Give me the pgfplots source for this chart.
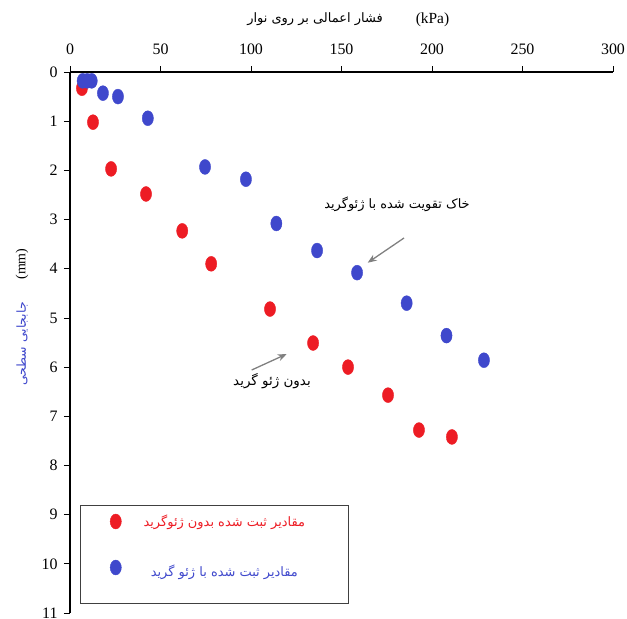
\documentclass[border=0pt]{standalone}
\usepackage{pgfplots}
\pgfplotsset{compat=1.18}
\usetikzlibrary{arrows.meta}
\usepackage{fontspec}
\setmainfont{Liberation Serif}
\newfontfamily\fa[Script=Arabic]{DejaVu Sans}
\TeXXeTstate=1
\definecolor{cred}{RGB}{237,28,36}
\definecolor{cblue}{RGB}{63,72,204}
\pgfplotstableread{
x y
6.6 0.33
12.7 1.02
22.7 1.97
42.0 2.48
62.0 3.23
78.0 3.90
110.5 4.82
134.3 5.51
153.6 6.00
175.7 6.57
192.8 7.28
211.0 7.42
}\redtab
\pgfplotstableread{
x y
7.0 0.18
9.5 0.18
12.0 0.18
18.2 0.43
26.5 0.50
43.0 0.94
74.6 1.93
97.2 2.18
114.0 3.08
136.5 3.63
158.6 4.08
186.0 4.70
208.0 5.36
228.7 5.86
}\bluetab
\begin{document}
\begin{tikzpicture}
\path[use as bounding box] (-70bp,72bp) rectangle (557bp,-547bp);
\draw[black!75, line width=1pt] (10bp,-433bp) rectangle (278.5bp,-531bp);
\begin{axis}[at={(0,0)}, anchor=north west, scale only axis,
  width=543bp, height=541bp,
  xmin=0, xmax=300, ymin=0, ymax=11, y dir=reverse,
  axis x line*=top, axis y line*=left,
  xtick={0,50,...,300}, ytick={0,1,...,11},
  tick align=outside, major tick length=6bp,
  axis line style={black, line width=1.2pt},
  tick style={black, line width=0.8pt},
  ticklabel style={font=\fontsize{16}{18}\selectfont},
  xticklabel style={yshift=8bp},
  yticklabel style={xshift=-3bp},
  /pgf/number format/assume math mode=true,
  clip=false,
  legend style={at={(axis cs:5.5,8.88)}, anchor=north west, draw=none, fill=none,
    inner xsep=30bp, inner ysep=4bp, row sep=30bp},
  legend cell align=left,
]
\addplot[only marks, mark=*, color=cred, mark size=7.5pt, mark options={xscale=0.75}] table {\redtab};
\addlegendentry{\hspace*{8.5bp}\makebox[185bp][c]{\color{cred}\fa\fontsize{13}{15}\selectfont\beginR مقادیر ثبت شده بدون ژئوگرید\endR}}
\addplot[only marks, mark=*, color=cblue, mark size=7.5pt, mark options={xscale=0.75}] table {\bluetab};
\addlegendentry{\hspace*{8.5bp}\makebox[185bp][c]{\color{cblue}\fa\fontsize{13}{15}\selectfont\raisebox{-8bp}{\beginR مقادیر ثبت شده با ژئو گرید\endR}}}
\end{axis}
\node[font=\fa\fontsize{13}{15}\selectfont] at (245bp,53bp) {\beginR فشار اعمالی بر روی نوار\endR};
\node[font=\fontsize{15.5}{17}\selectfont] at (362.5bp,52bp) {(kPa)};
\node[rotate=90, font=\fontsize{14}{16}\selectfont] at (-48bp,-192bp) {(mm)};
\node[rotate=90, text=cblue, font=\fa\fontsize{12.5}{14}\selectfont] at (-48bp,-272bp) {\beginR جابجایی سطحی\endR};
\node[font=\fa\fontsize{13}{15}\selectfont] at (327bp,-132bp) {\beginR خاک تقویت شده با ژئوگرید\endR};
\node[font=\fa\fontsize{13.5}{15}\selectfont] at (202bp,-309bp) {\beginR بدون ژئو گرید\endR};
\draw[gray, line width=1.3pt, -{Stealth[length=9bp,width=7bp]}] (334bp,-166bp) -- (297.7bp,-190.7bp);
\draw[gray, line width=1.3pt, -{Stealth[length=9bp,width=7bp]}] (181.7bp,-298bp) -- (216.7bp,-282bp);
\end{tikzpicture}
\end{document}
